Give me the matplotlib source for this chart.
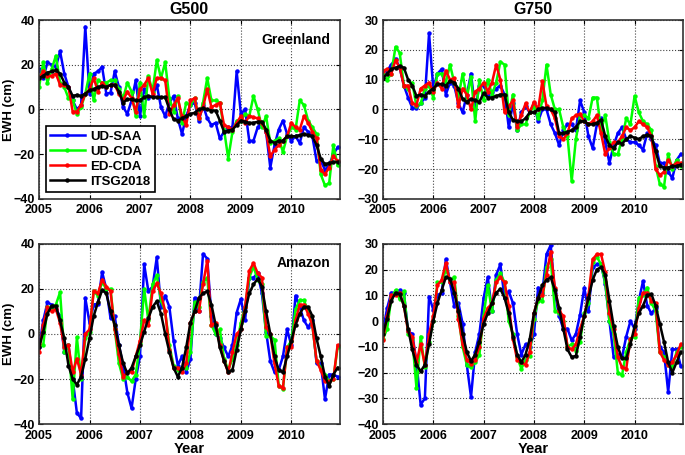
import numpy as np
import matplotlib.pyplot as plt

plt.rcParams['font.family'] = ['Liberation Sans', 'DejaVu Sans']

# monthly time axis 2005-2010
months = 2005 + np.arange(72) / 12.0

# ---- G500 Greenland ----
gl500_saa = [18, 14, 21, 20, 19, 26, 16, 10, 4, 0, 2, 37,
             7, 16, 17, 19, 7, 7.5, 17, 10, 1, -2, 4, 13,
             -3, 9, 5, 6, 11, 1, -3, 3, 6, -4, -11, -3,
             2, 3, -5, 2, -4, -7, -6, -13, -10, -8, -8, 17,
             -2, 0, -14, -14, -8, -6, -10, -26, -16, -9, -5, -11,
             -14, -12, -15, -8, -10, -12, -23, -23, -27, -25, -20, -17]
gl500_cda = [10, 21, 12, 18, 24, 12, 10, 5, 4, -2, 1, 7,
             16, 4, 13, 12, 12, 13, 13, 9, 5, 12, 8, -3,
             12, -3, 15, 8, 22, 14, 21, 5, -1, 6, -6, 3,
             2, 5, -4, 3, 14, 4, 4, 3, -9, -22, -10, -5,
             -5, -2, -3, 6, 0, -8, -3, -15, -14, -13, -19, -12,
             -8, -9, 4, 2, -5, -8, -11, -29, -34, -33, -16, -25]
gl500_ed = [14, 17, 15, 15, 16, 11, 11, 10, -1, -1, 2, 7,
            9, 14, 8, 12, 10, 11, 11, 7, 4, 8, 5, -1,
            9, 11, 14, 7, 14, 14, 13, -2, 2, 5, -3, -7,
            4, 5, -4, 1, 9, 1, 2, 3, -7, -8, -9, -6,
            -3, -6, -3, -3.5, -4, -6, -10, -21, -18, -16, -14, -12,
            -6, -8, -9, -3, -6, -10, -13, -27, -29, -26, -21, -23]
gl500_itsg = [14, 15, 16.5, 17, 17.5, 16, 12, 10, 6, 6.5, 6, 7,
              8.5, 9, 10, 10.5, 10, 11, 11, 8, 3, 4.5, 4.5, 4,
              4, 5.5, 6, 5.5, 5.5, 5.5, 5.5, 0, -4.5, -5, -4, -3,
              -2, -1.5, 0, 0.5, 0, -0.5, -0.5, -5, -10, -9.5, -9, -7,
              -5, -5.5, -6, -6, -5.5, -5.5, -9, -14, -15, -14, -14, -12,
              -12, -12, -11.5, -11, -11.5, -12, -16, -22, -24.5, -24, -23.5, -23.5]

# ---- G750 Greenland ----
gl750_saa = [13, 13, 15, 17, 14, 8, 4, 0.5, 0.5, 2, 4, 25.5,
             7, 12, 13.5, 5, 9, 8, 2, -1, 5, 12, 0, 8,
             8, 5, 6, 7, 8, 5, -6, 2, -7, -1, 1, -1,
             2, -4, 0, 0, -5, -8, -12, -7, -5, -5, -7, 3,
             -1, -9, -13, -5, -3, -11, -18, -12, -8, -6, -10, -11,
             -11, -12, -13.5, -8, -10, -12, -18, -18, -21, -23, -17, -15]
gl750_cda = [12, 10, 12, 21, 19, 8, 7, 9, 1, 2, 7, 8,
             4, 12, 12, 9, 15, 9, 4, 12, 4, 11, -4, 10,
             3, 10, 5, 9, 16, 15, -2, 5, -7, -5, -5, -1,
             1, -3, 3, 15, 5, 0, 0, -6, -9, -24, -10, -2,
             -2, -3, 4, 4, -7, -2, -11, -15, -15, -10, -3, -5,
             4.5, -1, -4, -5, -7, -19, -25, -26, -15, -20, -17, -19]
gl750_ed = [13, 13.5, 12, 16.5, 14, 8, 8, 2, 1.5, 7, 8, 9,
            6, 9, 7, 13, 10, 10.5, 1, 7, 5, 0, 6, 7,
            9, 6, 9, 15, 10, -1, 1, 3, -6, -2, 2, -1,
            2.5, 0, 9.5, 1, 0, -3, -9, -10, -8, -3, -2, -1.5,
            -4, -5, -4, -2, -8, -15, -13, -11, -11, -9, -6, -7,
            -6, -4, -5, -6, -9, -20, -22, -21, -17, -19, -18, -18]
gl750_itsg = [10.5, 12, 13.5, 14, 14.5, 14, 10, 8, 4.5, 5, 4.5, 6,
              7, 8.5, 8.5, 8, 9.5, 9, 7, 3.5, 2.5, 3.5, 3, 2.5,
              5.5, 4, 4, 4.5, 5, 5, -1, -3.5, -4, -4, -3, -1,
              -1, 0, 0.5, 0.5, 0, -1, -8, -8, -7.5, -7, -6, -4,
              -4, -5, -5, -4.5, -3.5, -9, -12, -13, -11, -11.5, -10, -9,
              -9.5, -10, -9, -8.5, -9, -14, -19, -19.5, -19.5, -19, -19, -18.5]

# ---- G500 Amazon ----
am500_saa = [-6, 6, 14, 13, 11, 8, -8, -5, -20, -35, -37.5, 16,
             5, 13, 13.5, 27.5, 20, 7, 8, -5, -14, -26, -33, -20,
             -10, 31, 19, 21, 34, 12, 17, 12, -3, -14, -10, -17,
             -11, 16, 10, 35.5, 33.5, 8, 0, -2, -6, -10, -5, 9.5,
             15.5, 6, 25, 25, 27, 18, 1, -12, -17, -16, -10, 2,
             -5, 17, 12, 6, 3, 6, -13, -13, -29, -18, -18, -19]
am500_cda = [-5, -5, 12, 12, 13, 18.5, -8, -5, -29, -1.5, -20, -2,
             1, 19, 17, 23, 20, 20, 2, -13, -20, -19, -21, -18,
             -4, 20, 6, 22, 26, 15, 10, -5, -14, -16, -15, -15,
             -8, 14, 12, 23, 25, 4, 0, 2, -11, -16, -11, -5,
             5, 12, 25, 30, 24, 22, -1, -1, -2.5, -23, -24.5, -6,
             -3, 11, 15, 15, 10, 4, -12, -15, -18, -21, -20, -6]
am500_ed = [-8, 4, 12, 10, 11, 5, -6, -5, -17, -11, -18, 0,
            2, 19, 18, 24, 21, 19, 2, -9, -19, -17, -17, -10,
            -3, 6, 4, 19, 22.5, 18, 10, -7, -15, -15, -17, -13,
            5, 10, 10, 22, 32.5, 4, 5, -5, -12, -17, -8, 0,
            2, 12, 28, 31.5, 27, 25, 3, 0, -13, -23, -24, -6,
            -6, 6, 13, 13, 9, 4, -12, -16, -21, -21, -20, -5]
am500_itsg = [-6, 1, 9, 12.5, 12.5, 6, -2, -14, -20, -22.5, -19, -11,
              -2, 8, 14, 19.5, 18, 10, 4, -5, -13, -17.5, -15, -10,
              -5, 1, 7, 12, 14.5, 9, 0, -8, -15, -19, -15, -6,
              5, 10, 16, 18, 19, 13, 4, -6, -12, -17, -16, -7,
              2, 10, 18, 22, 24.5, 21, 10, 0, -10, -16, -17, -10,
              -3, 4, 9, 12, 12, 8, -2, -10, -19, -23, -18, -15]

# ---- G750 Amazon ----
am750_saa = [-4, 5, 11, 11, 12, 11, -4, -5, -16, -32.5, -30, 9.5,
             4.5, 10, 11, 24, 15, 6, 7, -1, -17, -29.5, -12, -5,
             9, 17, 4, 18, 22, 9, 11.5, 7, -5, -13, -9, -10,
             -5, 13, 11, 26, 29.5, 11, 2, -3, -3, -7.5, -5, 2.5,
             13, 4, 21, 22, 22, 14.5, 0, -14, -13, -14, -6, 0,
             -3, 8, 15.5, 6, 3, 5, -10, -12, -27.5, -11, -11, -17.5]
am750_cda = [-7, -3, 9, 12, 8.5, 11.5, -5, -7, -26, -6, -18, -8,
             0, 15, 15, 20, 16, 17, 2, -10, -17, -18, -16, -13,
             2, 14, 4, 16, 18.5, 15, 0, -5, -14, -18.5, -15, -13.5,
             1, 8, 8, 21, 24, 4, 3, 0, -10, -9, -11.5, -8,
             3, 7, 23, 25, 22, 15, 0, -5, -20, -21, -12, -7,
             -6, 9, 10, 13, 7, 4, -12, -14, -17, -18, -12, -10]
am750_ed = [-7.5, 2, 10, 10, 11, 6, -4, -6, -16, -9, -17, -5,
            2, 14, 16, 22.5, 15, 15, 1, -9, -15, -16.5, -15, -10,
            1, 5, 7, 15, 17, 15, 6, -7, -15, -16, -17, -12,
            3, 9, 10, 18, 27, 13, 4, 2, -10, -11, -9, -3,
            2, 10, 24, 26, 26, 19, 3, -3, -14, -18, -18.5, -7,
            -5, 5, 11, 11, 8, 7, -12, -15, -17, -16, -13, -9]
am750_itsg = [-5, 1, 8, 11, 10.5, 6, -3, -11, -17, -19.5, -17, -9,
              0, 7, 12, 17, 16.5, 11, 4, -5, -12, -15.5, -13, -8,
              -1, 3, 7, 11, 12.5, 9, 3, -6, -13, -16, -13, -7,
              3, 9, 14, 16, 17, 12, 5, -3, -11, -14, -13.5, -6,
              2, 9, 16, 20, 21, 18, 8, -2, -10, -14.5, -14.5, -9,
              -2, 3, 6, 10, 10.5, 6, -1, -8, -16, -20, -16, -12]

labels = ['UD-SAA', 'UD-CDA', 'ED-CDA', 'ITSG2018']
colors = ['#0000ff', '#00ff00', '#ff0000', '#000000']
years = [2005, 2006, 2007, 2008, 2009, 2010]

fig = plt.figure(figsize=(6.85, 4.55), dpi=100)
pos = {
    (0, 0): [0.057, 0.563, 0.439, 0.393],
    (0, 1): [0.559, 0.563, 0.438, 0.393],
    (1, 0): [0.057, 0.068, 0.439, 0.396],
    (1, 1): [0.559, 0.068, 0.438, 0.396],
}
panels = {
    (0, 0): ([gl500_saa, gl500_cda, gl500_ed, gl500_itsg], (-40, 40), 20),
    (0, 1): ([gl750_saa, gl750_cda, gl750_ed, gl750_itsg], (-30, 30), 10),
    (1, 0): ([am500_saa, am500_cda, am500_ed, am500_itsg], (-40, 40), 20),
    (1, 1): ([am750_saa, am750_cda, am750_ed, am750_itsg], (-40, 30), 10),
}

for (r, c), (series, ylim, step) in panels.items():
    ax = fig.add_axes(pos[(r, c)])
    for s, col, lab in zip(series, colors, labels):
        ax.plot(months, s, color=col, lw=1.8, marker='o', ms=2.2, label=lab)
    ax.set_xlim(2005, 2010.96)
    ax.set_ylim(*ylim)
    ax.set_xticks(years)
    ax.set_yticks(np.arange(ylim[0], ylim[1] + 1, step))
    ax.grid(True, ls=':', color='#444444', lw=0.8)
    ax.tick_params(direction='in', length=3, top=True, right=True, labelsize=9)
    ax.tick_params(axis='y', pad=3)
    ax.tick_params(axis='x', pad=4)
    for t in ax.get_xticklabels() + ax.get_yticklabels():
        t.set_fontweight('bold')
    for sp in ax.spines.values():
        sp.set_color('#333333')
        sp.set_linewidth(1.2)
    if c == 0:
        ax.set_ylabel('EWH (cm)', fontsize=9.5, fontweight='bold', va='center')
        ax.yaxis.set_label_coords(-0.1, 0.5)
    if r == 1:
        ax.set_xlabel('Year', fontsize=10.5, fontweight='bold', labelpad=0)
    if r == 0:
        ax.set_title('G500' if c == 0 else 'G750', fontsize=11.5, fontweight='bold', pad=4)
    if c == 0:
        ax.text(0.97, 0.93, 'Greenland' if r == 0 else 'Amazon', transform=ax.transAxes,
                ha='right', va='top', fontsize=10, fontweight='bold')
    if (r, c) == (0, 0):
        leg = ax.legend(loc='lower left', frameon=True, fancybox=False,
                        borderaxespad=0.5, handlelength=2.6, labelspacing=0.2,
                        borderpad=0.35, handletextpad=0.4, prop={'weight': 'bold', 'size': 9.5})
        leg.get_frame().set_edgecolor('black')
        leg.get_frame().set_linewidth(1.2)
        leg.get_frame().set_alpha(1)

fig.savefig('out.png', dpi=100)
